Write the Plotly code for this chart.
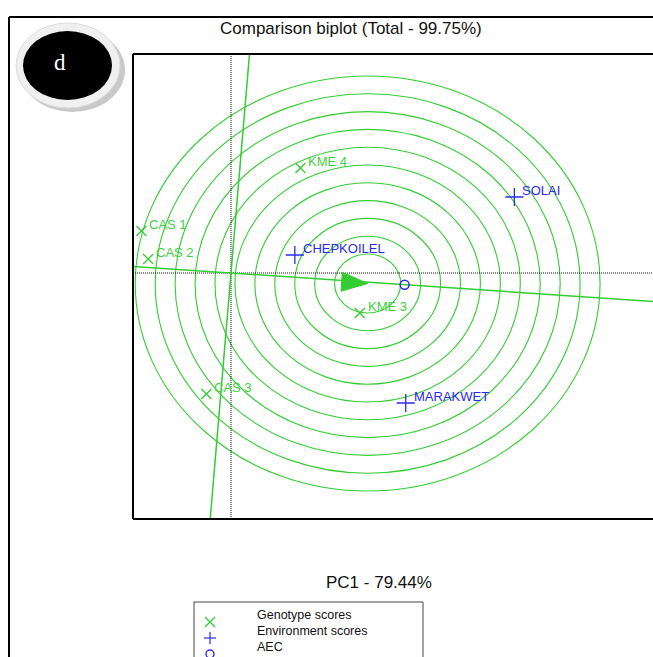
import plotly.graph_objects as go
import math

# ---------------- data ----------------
genotypes = ["CAS 1", "CAS 2", "KME 4", "KME 3", "CAS 3"]
geno_pc1 = [-0.80, -0.74, 0.62, 1.15, -0.22]
geno_pc2 = [0.42, 0.14, 1.05, -0.40, -1.21]

environments = ["CHEPKOILEL", "SOLAI", "MARAKWET"]
env_pc1 = [0.57, 2.53, 1.56]
env_pc2 = [0.18, 0.76, -1.30]

aec_point = [1.55, -0.117]
ideal_point = [1.22, -0.105]
ring_radii = [0.295, 0.473, 0.651, 0.829, 1.007, 1.185, 1.363, 1.541, 1.719, 1.897, 2.075]

title_text = "Comparison biplot (Total - 99.75%)"
xaxis_title = "PC1 - 79.44%"
legend_labels = ["Genotype scores", "Environment scores", "AEC"]
badge_text = "d"

# ---------------- layout geometry ----------------
FW, FH = 653, 657
L, T, R_, B = 133, 54, 653, 519
W, H = R_ - L, B - T
SX, SY = 112.0, 100.0          # px per unit on x / y
OX, OY = 231.0, 273.0          # pixel of origin
xr = [-(OX - L) / SX, (R_ - OX) / SX]
yr = [-(B - OY) / SY, (OY - T) / SY]

GREEN = "#33cc33"
LGREEN = "#3fcf3f"
BLUE = "#2a2af0"


def PX(px):
    return (px - L) / W


def PY(py):
    return (B - py) / H


fig = go.Figure()

# dotted origin lines
fig.add_trace(go.Scatter(x=[xr[0], xr[1]], y=[0, 0], mode="lines",
                         line=dict(color="#111", width=1, dash="1px,1px"), hoverinfo="skip"))
fig.add_trace(go.Scatter(x=[0, 0], y=[yr[0], yr[1]], mode="lines",
                         line=dict(color="#111", width=1, dash="1px,1px"), hoverinfo="skip"))

# AEC abscissa line through origin
ax_, ay_ = aec_point
s = ay_ / ax_
fig.add_trace(go.Scatter(x=[xr[0], xr[1]], y=[xr[0] * s, xr[1] * s], mode="lines",
                         line=dict(color=GREEN, width=1.5), hoverinfo="skip"))
# AEC ordinate (perpendicular) line through origin
p = -ax_ / ay_
fig.add_trace(go.Scatter(x=[yr[0] / p, yr[1] / p], y=[yr[0], yr[1]], mode="lines",
                         line=dict(color=GREEN, width=1.5), hoverinfo="skip"))

# concentric rings around ideal point
shapes = []
cx, cy = ideal_point
for r in ring_radii:
    shapes.append(dict(type="circle", xref="x", yref="y", x0=cx - r, x1=cx + r,
                       y0=cy - r, y1=cy + r, line=dict(color=GREEN, width=1.1), layer="below"))

# arrow head (triangle) pointing at ideal point along AEC
dpx = ax_ * SX
dpy = -ay_ * SY
n = math.hypot(dpx, dpy)
ux, uy = dpx / n, dpy / n
tipx, tipy = OX + cx * SX, OY - cy * SY
bx, by = tipx - 26 * ux, tipy - 26 * uy
pts = [(tipx, tipy), (bx - 9.5 * uy, by + 9.5 * ux), (bx + 9.5 * uy, by - 9.5 * ux), (tipx, tipy)]
fig.add_trace(go.Scatter(x=[(q[0] - OX) / SX for q in pts], y=[(OY - q[1]) / SY for q in pts],
                         mode="lines", fill="toself", fillcolor=GREEN,
                         line=dict(color=GREEN, width=1), hoverinfo="skip"))

# points
fig.add_trace(go.Scatter(x=geno_pc1, y=geno_pc2, mode="markers",
                         marker=dict(symbol="x-thin", size=10, line=dict(color=GREEN, width=1.3)),
                         hoverinfo="skip"))
fig.add_trace(go.Scatter(x=env_pc1, y=env_pc2, mode="markers",
                         marker=dict(symbol="cross-thin", size=13, line=dict(color=BLUE, width=1.3)),
                         hoverinfo="skip"))
fig.add_trace(go.Scatter(x=[aec_point[0]], y=[aec_point[1]], mode="markers",
                         marker=dict(symbol="circle-open", size=9, color=BLUE, line=dict(width=1.5)),
                         hoverinfo="skip"))

annotations = []
for name, x, y in zip(genotypes, geno_pc1, geno_pc2):
    annotations.append(dict(x=x, y=y, xref="x", yref="y", text=name, showarrow=False,
                            xanchor="left", yanchor="middle", xshift=6, yshift=7,
                            font=dict(family="Liberation Sans", size=13, color=LGREEN)))
for name, x, y in zip(environments, env_pc1, env_pc2):
    annotations.append(dict(x=x, y=y, xref="x", yref="y", text=name, showarrow=False,
                            xanchor="left", yanchor="middle", xshift=6, yshift=7,
                            font=dict(family="Liberation Sans", size=13, color=BLUE)))

# plot frame (left, top, bottom)
shapes.append(dict(type="line", xref="paper", yref="paper", x0=0, x1=0, y0=0, y1=1,
                   line=dict(color="black", width=2)))
shapes.append(dict(type="line", xref="paper", yref="paper", x0=0, x1=1.02, y0=1, y1=1,
                   line=dict(color="black", width=2)))
shapes.append(dict(type="line", xref="paper", yref="paper", x0=0, x1=1.02, y0=0, y1=0,
                   line=dict(color="black", width=2)))
# outer frame
shapes.append(dict(type="line", xref="paper", yref="paper", x0=PX(9), x1=PX(FW + 5), y0=PY(17), y1=PY(17),
                   line=dict(color="black", width=2)))
shapes.append(dict(type="line", xref="paper", yref="paper", x0=PX(9), x1=PX(9), y0=PY(17), y1=PY(FH + 5),
                   line=dict(color="black", width=2)))

# badge
shapes.append(dict(type="circle", xref="paper", yref="paper", x0=PX(20), x1=PX(125), y0=PY(112), y1=PY(28),
                   fillcolor="#c9c9c9", line=dict(width=0)))
shapes.append(dict(type="circle", xref="paper", yref="paper", x0=PX(16), x1=PX(120), y0=PY(108), y1=PY(23),
                   fillcolor="#f0f0f0", line=dict(color="#dcdcdc", width=1)))
shapes.append(dict(type="circle", xref="paper", yref="paper", x0=PX(23), x1=PX(112), y0=PY(100), y1=PY(31),
                   fillcolor="black", line=dict(width=0)))
annotations.append(dict(x=PX(60), y=PY(62), xref="paper", yref="paper", text=badge_text, showarrow=False,
                        xanchor="center", yanchor="middle",
                        font=dict(family="Liberation Serif", size=23, color="white")))

# title and axis title
annotations.append(dict(x=PX(351), y=PY(28), xref="paper", yref="paper", text=title_text, showarrow=False,
                        xanchor="center", yanchor="middle",
                        font=dict(family="Liberation Sans", size=17, color="#111")))
annotations.append(dict(x=PX(379), y=PY(582), xref="paper", yref="paper", text=xaxis_title, showarrow=False,
                        xanchor="center", yanchor="middle",
                        font=dict(family="Liberation Sans", size=17, color="#111")))

# legend box
shapes.append(dict(type="rect", xref="paper", yref="paper", x0=PX(194), x1=PX(423), y0=PY(690), y1=PY(602),
                   line=dict(color="#444", width=1), fillcolor="rgba(0,0,0,0)"))
leg_y = [615, 631, 647]
sym_y = [622, 638, 654]
for lab, ly in zip(legend_labels, leg_y):
    annotations.append(dict(x=PX(255), y=PY(ly), xref="paper", yref="paper", text=lab, showarrow=False,
                            xanchor="left", yanchor="middle",
                            font=dict(family="Liberation Sans", size=12.5, color="#111")))
# legend symbols
sx0 = 210
shapes.append(dict(type="line", xref="paper", yref="paper", x0=PX(sx0 - 5), x1=PX(sx0 + 5),
                   y0=PY(sym_y[0] - 5), y1=PY(sym_y[0] + 5), line=dict(color=GREEN, width=1.2)))
shapes.append(dict(type="line", xref="paper", yref="paper", x0=PX(sx0 - 5), x1=PX(sx0 + 5),
                   y0=PY(sym_y[0] + 5), y1=PY(sym_y[0] - 5), line=dict(color=GREEN, width=1.2)))
shapes.append(dict(type="line", xref="paper", yref="paper", x0=PX(sx0 - 6), x1=PX(sx0 + 6),
                   y0=PY(sym_y[1]), y1=PY(sym_y[1]), line=dict(color=BLUE, width=1.2)))
shapes.append(dict(type="line", xref="paper", yref="paper", x0=PX(sx0), x1=PX(sx0),
                   y0=PY(sym_y[1] - 6), y1=PY(sym_y[1] + 6), line=dict(color=BLUE, width=1.2)))
shapes.append(dict(type="circle", xref="paper", yref="paper", x0=PX(sx0 - 4), x1=PX(sx0 + 4),
                   y0=PY(sym_y[2] + 4), y1=PY(sym_y[2] - 4), line=dict(color=BLUE, width=1.4)))

fig.update_layout(
    width=FW, height=FH,
    margin=dict(l=L, r=FW - R_, t=T, b=FH - B, autoexpand=False),
    paper_bgcolor="white", plot_bgcolor="white",
    showlegend=False,
    xaxis=dict(range=xr, showgrid=False, zeroline=False, showticklabels=False, showline=False, ticks=""),
    yaxis=dict(range=yr, showgrid=False, zeroline=False, showticklabels=False, showline=False, ticks=""),
    shapes=shapes,
    annotations=annotations,
)

fig.write_html("out.html", config={"displayModeBar": False},
               post_script="document.body.style.margin='0';document.body.style.overflow='hidden';")
